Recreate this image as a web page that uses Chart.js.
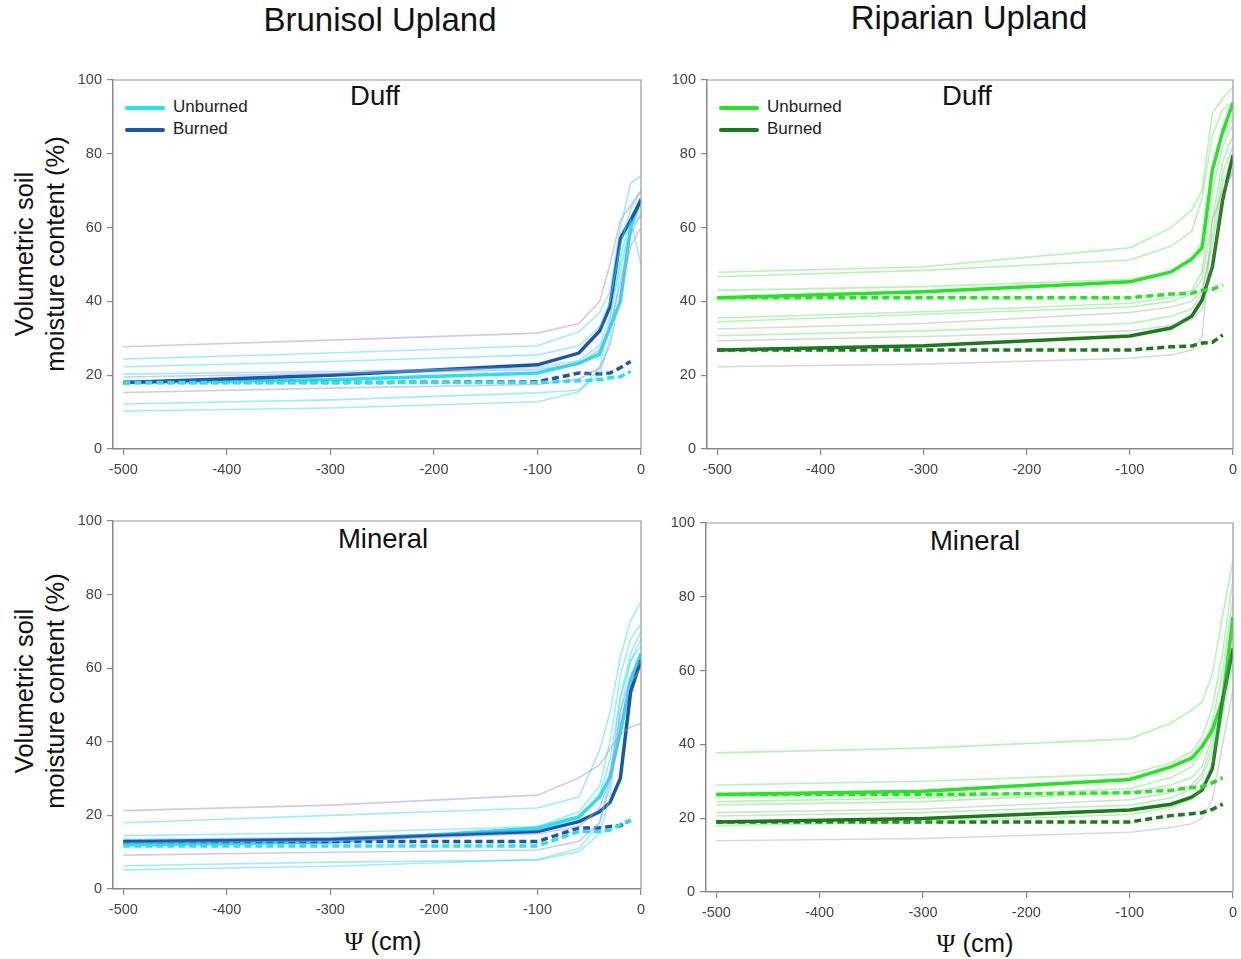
<!DOCTYPE html>
<html>
<head>
<meta charset="utf-8">
<script src="https://cdn.jsdelivr.net/npm/chart.js@4.4.1/dist/chart.umd.min.js"></script>
<style>
  body { margin: 0; background: #fff; font-family: "Liberation Sans", Arial, sans-serif; }
  #wrap { position: relative; width: 1241px; height: 959px; }
  canvas { position: absolute; }
  .t { position: absolute; color: #111; white-space: nowrap; transform: translateX(-50%); }
  .big { font-size: 33px; }
  .sub { font-size: 27.5px; }
  .xl { font-size: 25.5px; }
  .xl i { font-family: "Liberation Serif", serif; font-style: normal; }
  .yl { position: absolute; font-size: 25.5px; line-height: 31px; text-align: center; color: #111;
        transform: translate(-50%, -50%) rotate(-90deg); white-space: nowrap; }
  .leg { position: absolute; font-size: 17px; color: #222; }
  .leg div { height: 22px; line-height: 22px; }
  .leg span { display: inline-block; width: 40px; height: 4px; vertical-align: middle; margin-right: 8px; border-radius: 2px; }
</style>
</head>
<body>
<div id="wrap">
  <div class="t big" style="left:380px; top:1px;">Brunisol Upland</div>
  <div class="t big" style="left:969px; top:-1px;">Riparian Upland</div>

  <div class="t sub" style="left:375px; top:80px;">Duff</div>
  <div class="t sub" style="left:967px; top:80px;">Duff</div>
  <div class="t sub" style="left:383px; top:523px;">Mineral</div>
  <div class="t sub" style="left:975px; top:525px;">Mineral</div>

  <div class="yl" style="left:40px; top:254px;">Volumetric soil<br>moisture content (%)</div>
  <div class="yl" style="left:40px; top:691px;">Volumetric soil<br>moisture content (%)</div>

  <div class="t xl" style="left:383px; top:927px;"><i>&Psi;</i> (cm)</div>
  <div class="t xl" style="left:975px; top:929px;"><i>&Psi;</i> (cm)</div>

  <div class="leg" style="left:125px; top:96px;">
    <div><span style="background:#22e3f0"></span>Unburned</div>
    <div><span style="background:#1a56b0"></span>Burned</div>
  </div>
  <div class="leg" style="left:719px; top:96px;">
    <div><span style="background:#22e622"></span>Unburned</div>
    <div><span style="background:#1b7a1b"></span>Burned</div>
  </div>

  <canvas id="bu-duff" width="600" height="430" style="left:60px; top:60px;"></canvas>
  <canvas id="ru-duff" width="600" height="430" style="left:654px; top:60px;"></canvas>
  <canvas id="bu-min" width="600" height="430" style="left:60px; top:500px;"></canvas>
  <canvas id="ru-min" width="600" height="430" style="left:653px; top:502px;"></canvas>
</div>

<script>
// matric potential (cm) at each measured point
var psi = [-500, -300, -100, -60, -40, -30, -20, -10, 0];
var psiDash = [-500, -300, -100, -60, -40, -30, -20, -10];
var xTicks = [-500, -400, -300, -200, -100, 0];
var yTicks = [0, 20, 40, 60, 80, 100];

// Brunisol upland, duff
var buDuffUnburned = [18, 18.8, 20.6, 23.3, 25.7, 33, 40, 60, 68];
var buDuffBurned = [18, 20, 22.8, 26, 32, 38.6, 57, 62, 67.5];
var buDuffUnburnedDash = [18, 18, 18, 18.5, 18.8, 19.3, 19.6, 21];
var buDuffBurnedDash = [18, 18, 18.2, 20.6, 20.3, 20.6, 22, 23.7];
var buDuffFaint = [
  [27.7, 29.5, 31.4, 34, 40, 50, 62, 66, 70],
  [24.4, 26, 28, 31.8, 37, 42.6, 60, 72, 74],
  [22.3, 23.7, 25.5, 28, 33, 40, 55, 65, 70],
  [20.3, 21, 22, 24, 28, 36, 50, 60, 66],
  [19.5, 20.5, 21.5, 23, 27, 33, 45, 58, 64],
  [15.3, 16.5, 17.5, 19, 22, 28, 42, 55, 60],
  [12.2, 13.3, 15.2, 16, 20, 30, 48, 60, 63],
  [10.3, 11.1, 12.8, 15.5, 22, 35, 52, 62, 50]
];
var buDuffFaintKind = [1, 0, 0, 0, 1, 1, 0, 0];

// Riparian upland, duff
var ruDuffUnburned = [41, 42.6, 45.3, 48, 51.5, 54.5, 75.6, 86, 93.8];
var ruDuffBurned = [26.8, 28, 30.6, 32.8, 36, 40.4, 49.4, 67.5, 79.7];
var ruDuffUnburnedDash = [41, 41, 41, 42, 42.2, 43, 43.3, 44.4];
var ruDuffBurnedDash = [26.8, 26.8, 26.8, 27.7, 27.9, 28.7, 28.9, 30.9];
var ruDuffFaint = [
  [47.9, 49.4, 54.5, 60, 64.8, 70, 91, 95, 98],
  [46.7, 48.4, 51.2, 55, 59, 68, 85, 92, 94],
  [43, 44, 46, 48, 51, 56, 75, 85, 90],
  [35.5, 37.2, 39.5, 41, 43, 48, 70, 82, 88],
  [34.5, 36.5, 38.5, 40, 42, 46, 62, 78, 85],
  [32.5, 34, 37, 38.5, 40, 43, 55, 72, 80],
  [30.7, 32, 34, 36, 38, 42, 58, 75, 82],
  [29.3, 30.5, 32, 33.5, 35, 38, 50, 68, 76],
  [22.3, 23, 24.6, 25.5, 26.8, 30.4, 62, 70, 75]
];
var ruDuffFaintKind = [0, 0, 0, 0, 0, 1, 0, 1, 1];

// Brunisol upland, mineral
var buMinUnburned = [12, 12.8, 16.6, 19.6, 25, 30.5, 42.4, 56.8, 64];
var buMinBurned = [12.9, 13.5, 15.6, 18.3, 21, 23.5, 30, 53.6, 62.2];
var buMinUnburnedDash = [11.7, 11.7, 11.7, 15.6, 15.6, 16, 17.5, 18.7];
var buMinBurnedDash = [12.9, 12.9, 12.9, 16.6, 16.6, 17, 17.2, 18.7];
var buMinFaint = [
  [21.3, 22.8, 25.5, 30.2, 33.7, 38, 42, 44, 45],
  [18, 20, 22, 25, 37.8, 48, 63, 73, 78],
  [14.5, 15.3, 17, 21, 28, 40, 58, 68, 72],
  [13.5, 14, 16, 19, 26, 35, 52, 62, 66],
  [12.5, 13, 15, 17, 22, 30, 48, 58, 62],
  [9.2, 10, 10.6, 13, 18, 28, 45, 56, 60],
  [6.3, 7.3, 7.9, 10.1, 15, 25, 48, 62, 68],
  [5.2, 6.2, 8, 11, 18, 30, 52, 64, 70]
];
var buMinFaintKind = [1, 0, 0, 0, 1, 1, 0, 0];

// Riparian upland, mineral
var ruMinUnburned = [26.4, 27.3, 30.5, 33.9, 36.3, 39.4, 43.9, 52, 74.6];
var ruMinBurned = [19, 19.9, 22.2, 23.8, 25.7, 27.6, 33.5, 52, 66];
var ruMinUnburnedDash = [26.4, 26.4, 26.9, 27.6, 28.3, 28.5, 29.6, 31];
var ruMinBurnedDash = [19, 19, 19, 20.7, 21.2, 21.5, 22.4, 23.8];
var ruMinFaint = [
  [37.7, 39, 41.5, 45.8, 49.3, 51.5, 59, 75, 90],
  [29, 30, 32, 35, 38, 42, 50, 65, 85],
  [24.5, 25.5, 28, 31, 34, 38, 46, 60, 80],
  [23.6, 24.5, 27, 29, 31, 34, 42, 55, 72],
  [21.5, 22.5, 25, 27, 29, 32, 40, 52, 65],
  [20.6, 21.5, 23.5, 25.5, 28, 31, 38, 50, 70],
  [18, 19, 21, 23, 25, 28, 35, 48, 62],
  [13.9, 14.5, 16.2, 17.5, 18.5, 20, 25, 40, 55]
];
var ruMinFaintKind = [0, 0, 0, 0, 1, 0, 0, 1];

var bluePal = { un: '#22e3f0', bu: '#1a56b0', faint: ['rgba(70,220,235,0.5)', 'rgba(160,150,230,0.5)'] };
var greenPal = { un: '#22e622', bu: '#1b7a1b', faint: ['rgba(70,220,70,0.38)', 'rgba(120,150,120,0.32)'] };

function pts(xs, ys) {
  return ys.map(function (y, i) { return { x: xs[i], y: y }; });
}

var boxPlugin = {
  id: 'box',
  afterDraw: function (chart) {
    var a = chart.chartArea, c = chart.ctx;
    c.save();
    c.strokeStyle = '#999';
    c.lineWidth = 1.2;
    c.beginPath();
    c.moveTo(a.left, a.top);
    c.lineTo(a.right, a.top);
    c.lineTo(a.right, a.bottom);
    c.stroke();
    c.restore();
  }
};

function makePanel(id, pal, faint, kinds, un, bu, unDash, buDash, pad) {
  var datasets = [];
  faint.forEach(function (f, i) {
    datasets.push({
      data: pts(psi, f),
      borderColor: pal.faint[kinds[i]],
      borderWidth: 1.6,
      pointRadius: 0
    });
  });
  datasets.push({ data: pts(psiDash, unDash), borderColor: pal.un, borderWidth: 3.5, borderDash: [7, 4], pointRadius: 0 });
  datasets.push({ data: pts(psiDash, buDash), borderColor: pal.bu, borderWidth: 3.5, borderDash: [7, 4], pointRadius: 0 });
  datasets.push({ data: pts(psi, bu), borderColor: pal.bu, borderWidth: 3.5, pointRadius: 0 });
  datasets.push({ data: pts(psi, un), borderColor: pal.un, borderWidth: 3.5, pointRadius: 0 });

  var tickFont = { family: 'Liberation Sans', size: 14.5 };
  new Chart(document.getElementById(id).getContext('2d'), {
    type: 'line',
    data: { datasets: datasets },
    plugins: [boxPlugin],
    options: {
      responsive: false,
      animation: false,
      layout: { padding: { left: 0, top: pad.top, right: pad.right, bottom: 0 } },
      scales: {
        x: {
          type: 'linear',
          min: -510,
          max: 0,
          afterBuildTicks: function (s) { s.ticks = xTicks.map(function (v) { return { value: v }; }); },
          afterFit: function (s) { s.height = pad.xh; },
          ticks: { color: '#444', font: tickFont, padding: 6, maxRotation: 0 },
          grid: { drawOnChartArea: false, tickLength: 6, color: '#888', lineWidth: 1.2 },
          border: { color: '#888', width: 1.5 }
        },
        y: {
          min: 0,
          max: 100,
          afterBuildTicks: function (s) { s.ticks = yTicks.map(function (v) { return { value: v }; }); },
          afterFit: function (s) { s.width = 53; },
          ticks: { color: '#444', font: tickFont, padding: 5 },
          grid: { drawOnChartArea: false, tickLength: 6, color: '#888', lineWidth: 1.2 },
          border: { color: '#888', width: 1.5 }
        }
      },
      plugins: {
        legend: { display: false },
        tooltip: { enabled: false }
      }
    }
  });
}

document.addEventListener('DOMContentLoaded', function () {
  makePanel('bu-duff', bluePal, buDuffFaint, buDuffFaintKind, buDuffUnburned, buDuffBurned, buDuffUnburnedDash, buDuffBurnedDash, { top: 20, right: 19, xh: 41 });
  makePanel('ru-duff', greenPal, ruDuffFaint, ruDuffFaintKind, ruDuffUnburned, ruDuffBurned, ruDuffUnburnedDash, ruDuffBurnedDash, { top: 20, right: 21, xh: 41 });
  makePanel('bu-min', bluePal, buMinFaint, buMinFaintKind, buMinUnburned, buMinBurned, buMinUnburnedDash, buMinBurnedDash, { top: 21, right: 19, xh: 41 });
  makePanel('ru-min', greenPal, ruMinFaint, ruMinFaintKind, ruMinUnburned, ruMinBurned, ruMinUnburnedDash, ruMinBurnedDash, { top: 21, right: 20, xh: 40 });
});
</script>
</body>
</html>
